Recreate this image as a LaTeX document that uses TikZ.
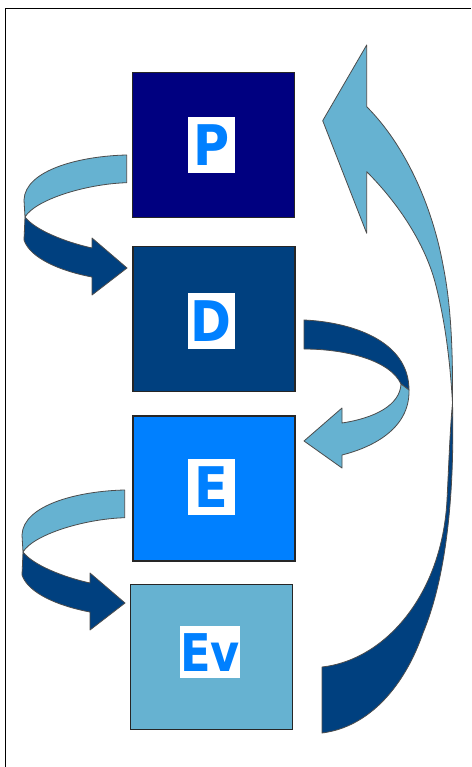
\documentclass[tikz,border=0pt]{standalone}
\usepackage{fontspec}
\newfontfamily\labfont{DejaVu Sans}
\definecolor{cP}{HTML}{000080}
\definecolor{cD}{HTML}{00407F}
\definecolor{cE}{HTML}{0080FF}
\definecolor{cEv}{HTML}{66B2D1}
\definecolor{cLight}{HTML}{66B2D1}
\definecolor{cDark}{HTML}{00407F}
\definecolor{cLetter}{HTML}{0080FF}
\tikzset{
  stage/.style={draw=black!85, line width=1.2pt, minimum width=162pt, minimum height=145pt, inner sep=0pt},
  tag/.style={fill=white, inner sep=0pt, minimum width=47pt, minimum height=56pt, text=cLetter,
    font=\labfont\bfseries\fontsize{56}{56}\selectfont},
  ribbon/.style={draw=black!70, line width=0.8pt, line join=round},
  lightrib/.style={ribbon, fill=cLight},
  darkrib/.style={ribbon, fill=cDark},
}
\begin{document}
\begin{tikzpicture}[x=1pt,y=-1pt]
\useasboundingbox (0,0) rectangle (471,767);
\fill[white] (0,0) rectangle (471,767);
\draw[line width=1pt] (5,767) -- (5,9) -- (471,9);

% stages
\node[stage, fill=cP] (P) at (213.8,145.3) {};
\node[stage, fill=cD] (D) at (214,319) {};
\node[stage, fill=cE] (E) at (214,488.5) {};
\node[stage, fill=cEv, minimum height=144.6pt] (Ev) at (211.8,657) {};

\node[tag] (tP) at (211.2,145.5) {\scalebox{0.88}[1]{P}};
\node[tag] (tD) at (211.2,320.7) {\scalebox{0.88}[1]{D}};
\node[tag, minimum height=55.4pt] (tE) at (211.2,487) {\scalebox{0.88}[1]{E}};
\node[tag, minimum width=58.7pt, minimum height=52.3pt, font=\labfont\bfseries\fontsize{52}{52}\selectfont] (tEv) at (210.3,652.2) {\scalebox{0.86}[1]{Ev}};

% left curved arrows (P -> D and E -> Ev)
\foreach \sx/\sy in {0/0, -2/335} {
\begin{scope}[shift={(\sx,\sy)}]
  \draw[lightrib] (126.7,155) .. controls (80,156) and (25,170) .. (24,200) -- (25,217)
     .. controls (35,200) and (85,184) .. (126.7,182.7) -- cycle;
  \draw[darkrib] (25,217) .. controls (35,230) and (65,242) .. (92,248) -- (92,238) -- (127,268)
     -- (92,295) -- (92,277) .. controls (60,271) and (30,258) .. (24,240) -- cycle;
\end{scope}
}

% right curved arrow D -> E
\draw[darkrib] (304,320) .. controls (350,322) and (409,340) .. (409,390) -- (401,384)
   .. controls (390,360) and (345,349) .. (304,349) -- cycle;
\draw[lightrib] (409,390) .. controls (410,430) and (370,448) .. (342,455) -- (342,468) -- (304,441)
   -- (342,408) -- (342,423) .. controls (375,418) and (400,405) .. (401,384) -- cycle;

% big return arrow Ev -> P
\draw[lightrib] (366.7,45) -- (322.7,120.7) -- (366.7,233.3) -- (366.7,171.7)
   .. controls (400,205) and (425,245) .. (435,282) .. controls (445,320) and (450,360) .. (452.5,403)
   .. controls (453,340) and (450,300) .. (443,265) .. controls (432,205) and (405,145) .. (366.7,106.7) -- cycle;
\draw[darkrib] (452.5,403) .. controls (455,510) and (443,585) .. (423,633)
   .. controls (405,685) and (370,727) .. (322,733) -- (322,667)
   .. controls (385,660) and (442,595) .. (447,500) .. controls (449,460) and (450,430) .. (452.5,403) -- cycle;
\end{tikzpicture}
\end{document}
